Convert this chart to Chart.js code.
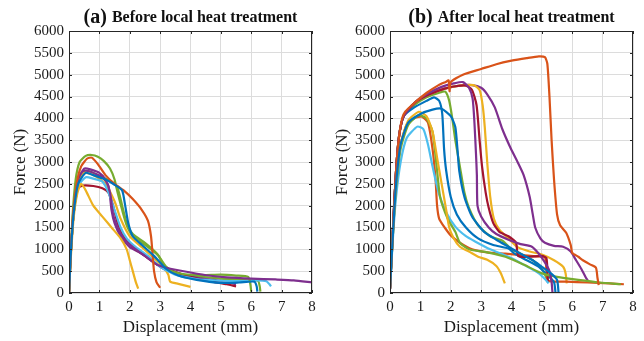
<!DOCTYPE html>
<html>
<head>
<meta charset="utf-8">
<script src="https://cdn.jsdelivr.net/npm/chart.js@4.4.0/dist/chart.umd.min.js"></script>
<style>
  html, body { margin: 0; padding: 0; background: #fff; }
  #wrap { position: relative; width: 644px; height: 341px; }
  .panel { position: absolute; top: 0; width: 322px; height: 341px; }
</style>
</head>
<body>
<div id="wrap">
  <div class="panel" style="left:0"><canvas id="chart-a"></canvas></div>
  <div class="panel" style="left:322px"><canvas id="chart-b"></canvas></div>
</div>
<script>
// === axis ticks ===
const xTicks = [0, 1, 2, 3, 4, 5, 6, 7, 8];
const yTicks = [0, 500, 1000, 1500, 2000, 2500, 3000, 3500, 4000, 4500, 5000, 5500, 6000];

// MATLAB default colour order
const blue = '#0072BD', orange = '#D95319', yellow = '#EDB120', purple = '#7E2F8E',
      green = '#77AC30', lightBlue = '#4DBEEE', darkRed = '#A2142F';

// === (a) before local heat treatment : [displacement mm, force N] ===
const aOrange = [[0,0],[0.05,800],[0.12,1700],[0.25,2500],[0.4,2900],[0.6,3080],[0.75,3100],[0.95,2950],[1.2,2700],[1.5,2500],[1.8,2350],[2.1,2150],[2.4,1900],[2.6,1650],[2.7,1300],[2.75,900],[2.8,500],[2.88,250],[3.0,120]];
const aYellow1 = [[0,0],[0.05,700],[0.15,1700],[0.28,2300],[0.4,2500],[0.55,2350],[0.8,2000],[1.1,1750],[1.4,1500],[1.7,1250],[1.9,1000],[2.0,750],[2.1,500],[2.2,250],[2.28,100]];
const aYellow2 = [[0,0],[0.05,800],[0.15,1800],[0.3,2500],[0.5,2750],[0.8,2700],[1.2,2500],[1.5,2100],[1.7,1700],[2.0,1300],[2.4,1050],[2.8,800],[3.1,600],[3.27,420],[3.33,260],[3.6,210],[4.0,140]];
const aDarkRed = [[0,0],[0.05,800],[0.15,1800],[0.3,2400],[0.45,2460],[0.8,2450],[1.1,2400],[1.3,2300],[1.45,2000],[1.6,1600],[1.8,1300],[2.1,1050],[2.5,850],[2.9,650],[3.5,480],[4.2,330],[4.8,250],[5.2,200],[5.5,150]];
const aPurple1 = [[0,0],[0.05,800],[0.15,1800],[0.3,2600],[0.5,2850],[0.7,2830],[1.0,2750],[1.2,2600],[1.35,2300],[1.45,1800],[1.6,1500],[1.8,1250],[2.1,1050],[2.5,850],[2.9,650],[3.3,560],[4.0,470],[4.6,400],[5.2,360],[6.0,330],[6.8,310],[7.4,290],[8.0,240]];
const aPurple2 = [[0,0],[0.05,800],[0.15,1800],[0.3,2550],[0.5,2800],[0.8,2750],[1.1,2650],[1.3,2450],[1.4,1900],[1.5,1600],[1.7,1300],[2.0,1050],[2.4,900],[2.8,700],[3.2,520],[3.8,400],[4.5,320],[5.0,280],[5.5,200]];
const aBlue1 = [[0,0],[0.05,800],[0.15,1800],[0.3,2500],[0.55,2750],[0.8,2700],[1.2,2600],[1.5,2480],[1.75,2350],[1.85,2000],[1.95,1600],[2.1,1300],[2.4,1100],[2.8,850],[3.2,550],[3.6,400],[4.2,300],[5.0,230],[5.6,240],[6.1,260],[6.18,150],[6.2,30]];
const aLightBlue = [[0,0],[0.05,800],[0.15,1800],[0.3,2450],[0.55,2650],[0.8,2620],[1.1,2550],[1.3,2300],[1.5,1900],[1.7,1500],[1.9,1250],[2.2,1050],[2.6,850],[3.0,600],[3.5,420],[4.2,320],[5.0,280],[5.6,270],[6.2,290],[6.5,270],[6.6,200],[6.65,150]];
const aGreen1 = [[0,0],[0.05,800],[0.12,1800],[0.22,2600],[0.35,3000],[0.55,3140],[0.75,3160],[0.95,3120],[1.15,3020],[1.35,2850],[1.5,2600],[1.6,2300],[1.75,1900],[1.9,1550],[2.1,1300],[2.4,1150],[2.7,1000],[2.95,850],[3.1,650],[3.4,500],[3.8,430],[4.4,410],[5.0,420],[5.5,400],[5.9,370],[5.97,200],[6.0,30]];
const aGreen2 = [[0,0],[0.05,800],[0.15,1800],[0.3,2500],[0.55,2800],[0.8,2750],[1.1,2650],[1.4,2550],[1.6,2400],[1.75,2000],[1.9,1600],[2.1,1350],[2.5,1150],[2.9,900],[3.2,600],[3.6,450],[4.2,380],[5.0,330],[5.8,300],[6.22,280],[6.28,150],[6.3,30]];

// === (b) after local heat treatment : [displacement mm, force N] ===
const bOrangeBig = [[0,100],[0.1,1500],[0.2,2800],[0.3,3600],[0.4,4000],[0.5,4150],[0.8,4350],[1.2,4580],[1.6,4760],[1.85,4840],[1.93,4870],[1.96,4620],[2.0,4830],[2.4,5000],[3.0,5130],[3.5,5240],[4.0,5320],[4.5,5380],[4.9,5420],[5.1,5400],[5.18,5250],[5.25,4500],[5.32,3500],[5.4,2600],[5.5,1800],[5.6,1550],[5.8,1380],[5.95,1100],[6.0,920],[6.2,830],[6.35,750],[6.6,650],[6.78,580],[6.83,350],[6.87,180]];
const bOrangeSmall = [[0,100],[0.1,1400],[0.2,2500],[0.35,3400],[0.55,3850],[0.8,4000],[1.05,4040],[1.25,3900],[1.4,3300],[1.5,2600],[1.55,2000],[1.62,1700],[1.8,1500],[2.0,1320],[2.3,1150],[2.7,1000],[3.2,930],[3.8,900],[4.3,870],[4.8,840],[5.1,820],[5.15,500],[5.2,280],[5.8,260],[6.5,240],[7.2,220],[7.7,200]];
const bLightBlue = [[0,100],[0.1,1300],[0.2,2200],[0.35,3000],[0.55,3550],[0.9,3810],[1.1,3750],[1.25,3400],[1.4,2900],[1.6,2300],[1.85,1850],[2.15,1520],[2.5,1300],[2.8,1180],[3.3,1000],[3.9,830],[4.4,650],[4.9,450],[5.1,320],[5.22,220]];
const bYellow1 = [[0,100],[0.1,1400],[0.2,2500],[0.35,3400],[0.6,3950],[0.95,4150],[1.2,4050],[1.4,3700],[1.55,3100],[1.7,2500],[1.85,1900],[1.95,1500],[2.1,1250],[2.3,1060],[2.6,950],[2.9,830],[3.2,760],[3.5,620],[3.65,450],[3.78,220]];
const bGreen1 = [[0,150],[0.1,1400],[0.2,2400],[0.35,3300],[0.6,3850],[0.95,4070],[1.2,4000],[1.4,3700],[1.55,2800],[1.65,2200],[1.9,1700],[2.15,1400],[2.3,1150],[2.6,1000],[3.2,930],[3.8,830],[4.4,650],[5.0,450],[5.5,370],[6.2,300],[6.9,240],[7.6,200]];
const bBlue1 = [[0,100],[0.1,1400],[0.2,2500],[0.35,3400],[0.6,3900],[1.0,4100],[1.4,4200],[1.7,4220],[2.0,4050],[2.15,3800],[2.22,3300],[2.28,2800],[2.45,2200],[2.7,1750],[3.1,1400],[3.5,1220],[3.9,1060],[4.3,900],[4.7,750],[5.0,600],[5.3,450],[5.5,300],[5.55,0]];
const bBlue2 = [[0,100],[0.1,1500],[0.2,2800],[0.3,3600],[0.45,4050],[0.8,4250],[1.2,4400],[1.45,4480],[1.62,4400],[1.72,4100],[1.78,3300],[1.85,2800],[2.0,2200],[2.2,1800],[2.5,1500],[2.9,1250],[3.4,1100],[3.9,1020],[4.1,900],[4.5,750],[4.9,600],[5.2,400],[5.4,250],[5.45,0]];
const bGreen2 = [[0,100],[0.1,1500],[0.2,2800],[0.3,3600],[0.45,4050],[0.8,4300],[1.2,4480],[1.6,4580],[1.82,4610],[1.95,4400],[2.05,4000],[2.15,3500],[2.3,2900],[2.45,2300],[2.6,1950],[2.9,1550],[3.3,1300],[3.7,1200],[4.0,1000],[4.3,900],[4.7,750],[5.0,550],[5.15,350],[5.2,250]];
const bPurple1 = [[0,80],[0.1,1500],[0.2,2800],[0.3,3600],[0.45,4050],[0.8,4350],[1.2,4550],[1.7,4720],[2.1,4800],[2.4,4830],[2.6,4700],[2.72,4450],[2.78,3900],[2.83,3200],[2.86,2700],[2.88,2000],[3.0,1750],[3.25,1500],[3.5,1350],[3.9,1220],[4.3,1120],[4.67,1060],[4.9,900],[5.1,700],[5.25,500],[5.32,250],[5.35,0]];
const bDarkRed = [[0,100],[0.1,1500],[0.2,2800],[0.3,3600],[0.45,4050],[0.8,4350],[1.3,4550],[1.8,4680],[2.2,4740],[2.5,4750],[2.7,4650],[2.85,4300],[2.95,3500],[3.03,2900],[3.15,2300],[3.25,1950],[3.4,1600],[3.6,1400],[3.9,1300],[4.15,1150],[4.22,850],[4.6,830],[5.0,850],[5.15,800],[5.2,250]];
const bYellow2 = [[0,100],[0.1,1500],[0.2,2800],[0.3,3600],[0.45,4050],[0.8,4350],[1.3,4550],[1.8,4680],[2.3,4750],[2.75,4760],[2.95,4650],[3.05,4300],[3.12,3800],[3.2,3000],[3.3,2200],[3.42,1700],[3.6,1450],[3.9,1250],[4.2,1050],[4.6,950],[5.0,880],[5.4,750],[5.7,600],[5.78,450],[5.82,220]];
const bPurple2 = [[0,100],[0.1,1500],[0.2,2800],[0.3,3600],[0.45,4050],[0.8,4350],[1.3,4550],[1.8,4680],[2.3,4750],[2.7,4760],[3.0,4700],[3.2,4550],[3.45,4250],[3.7,3750],[3.95,3350],[4.2,3000],[4.4,2700],[4.6,2200],[4.7,1800],[4.78,1500],[4.95,1250],[5.1,1150],[5.4,1080],[5.7,1060],[5.95,950],[6.1,780],[6.3,550],[6.45,350],[6.55,250]];

const curvesA = [
    [aBlue1, blue], [aOrange, orange], [aYellow1, yellow], [aPurple1, purple], [aGreen1, green],
    [aLightBlue, lightBlue], [aDarkRed, darkRed], [aYellow2, yellow], [aPurple2, purple], [aGreen2, green],
];
const curvesB = [
    [bBlue1, blue], [bOrangeBig, orange], [bYellow1, yellow], [bPurple1, purple], [bGreen1, green],
    [bLightBlue, lightBlue], [bDarkRed, darkRed], [bBlue2, blue], [bOrangeSmall, orange],
    [bYellow2, yellow], [bPurple2, purple], [bGreen2, green],
];

const SERIF = '"Liberation Serif", "Times New Roman", serif';

// === box, inward ticks and the mixed-font title ===
const framePlugin = {
    id: 'frame',
    afterDraw(chart, args, opts) {
        const { ctx, chartArea: a, scales: { x, y } } = chart;
        ctx.save();
        ctx.strokeStyle = '#262626';
        ctx.lineWidth = 1;
        ctx.beginPath();
        x.ticks.forEach(t => {
            const px = Math.round(x.getPixelForValue(t.value)) + 0.5;
            ctx.moveTo(px, a.bottom); ctx.lineTo(px, a.bottom - 3);
            ctx.moveTo(px, a.top); ctx.lineTo(px, a.top + 3);
        });
        y.ticks.forEach(t => {
            const py = Math.round(y.getPixelForValue(t.value)) + 0.5;
            ctx.moveTo(a.left, py); ctx.lineTo(a.left + 3, py);
            ctx.moveTo(a.right, py); ctx.lineTo(a.right - 3, py);
        });
        ctx.stroke();
        ctx.strokeRect(Math.round(a.left) + 0.5, Math.round(a.top) + 0.5,
                       Math.round(a.width) - 1, Math.round(a.height) - 1);

        // title
        ctx.fillStyle = '#111';
        ctx.textBaseline = 'alphabetic';
        ctx.textAlign = 'left';
        ctx.font = 'bold 20px ' + SERIF;
        const w1 = ctx.measureText(opts.tag).width;
        ctx.font = 'bold 16px ' + SERIF;
        const w2 = ctx.measureText(opts.text).width;
        let x0 = (a.left + a.right) / 2 - (w1 + w2) / 2;
        ctx.font = 'bold 20px ' + SERIF;
        ctx.fillText(opts.tag, x0, 23);
        ctx.font = 'bold 16px ' + SERIF;
        ctx.fillText(opts.text, x0 + w1, 22);
        ctx.restore();
    }
};

function makeChart(canvasId, curves, tag, text, axisWidth, padRight) {
    const datasets = curves.map(([pts, color]) => ({
        data: pts.map(p => ({ x: p[0], y: p[1] })),
        borderColor: color,
        borderWidth: 2.2,
        pointRadius: 0,
        tension: 0.2,
        fill: false,
    }));

    return new Chart(document.getElementById(canvasId), {
        type: 'line',
        data: { datasets },
        plugins: [framePlugin],
        options: {
            responsive: true,
            maintainAspectRatio: false,
            animation: false,
            layout: { padding: { top: 31, right: padRight, left: 0, bottom: 0 } },
            plugins: {
                legend: { display: false },
                tooltip: { enabled: false },
                frame: { tag, text },
            },
            scales: {
                x: {
                    type: 'linear',
                    min: 0,
                    max: 8,
                    afterBuildTicks: s => { s.ticks = xTicks.map(v => ({ value: v })); },
                    afterFit: s => { s.height = 48; },
                    ticks: { color: '#1a1a1a', padding: 5, font: { family: SERIF, size: 15 }, callback: v => String(v) },
                    grid: { color: '#dcdcdc', drawTicks: false },
                    border: { display: false },
                    title: {
                        display: true,
                        text: 'Displacement (mm)',
                        color: '#1a1a1a',
                        font: { family: SERIF, size: 17, lineHeight: 1.2 },
                        padding: { top: 0, bottom: 3 },
                    },
                },
                y: {
                    type: 'linear',
                    min: 0,
                    max: 6000,
                    afterBuildTicks: s => { s.ticks = yTicks.map(v => ({ value: v })); },
                    afterFit: s => { s.width = axisWidth; },
                    ticks: { color: '#1a1a1a', padding: 5, font: { family: SERIF, size: 15 }, callback: v => String(v) },
                    grid: { color: '#dcdcdc', drawTicks: false },
                    border: { display: false },
                    title: {
                        display: true,
                        text: 'Force (N)',
                        color: '#1a1a1a',
                        font: { family: SERIF, size: 17, lineHeight: 1.2 },
                        padding: { top: 10, bottom: 0 },
                    },
                },
            },
        },
    });
}

makeChart('chart-a', curvesA, '(a) ', 'Before local heat treatment', 69, 10);
makeChart('chart-b', curvesB, '(b) ', 'After local heat treatment', 68, 11);
</script>
</body>
</html>
